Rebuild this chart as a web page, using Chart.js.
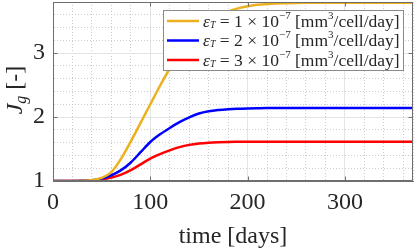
<!DOCTYPE html>
<html>
<head>
<meta charset="utf-8">
<script src="https://cdn.jsdelivr.net/npm/chart.js@4.4.1/dist/chart.umd.min.js"></script>
<style>
  html, body { margin: 0; padding: 0; background: #fff; }
  #wrap { width: 415px; height: 252px; }
</style>
</head>
<body>
<div id="wrap"><canvas id="chart" width="415" height="252"></canvas></div>
<script>
// time axis (days) and the three growth curves
const days = [0, 10, 20, 30, 40, 50, 60, 70, 80, 90, 100, 110, 120, 130, 140, 150, 160, 170, 180, 190,
              200, 210, 220, 230, 240, 250, 260, 270, 280, 290, 300, 310, 320, 330, 340, 350, 360, 370];
const jgEps1 = [1, 1, 1, 1.003, 1.015, 1.05, 1.14, 1.35, 1.62, 1.91, 2.2, 2.49, 2.76, 3.0, 3.2, 3.36, 3.49, 3.58, 3.65, 3.70,
                3.735, 3.757, 3.77, 3.778, 3.782, 3.785, 3.787, 3.788, 3.789, 3.789, 3.789, 3.789, 3.789, 3.789, 3.789, 3.789, 3.789, 3.789];
const jgEps2 = [1, 1, 1, 1.003, 1.012, 1.04, 1.09, 1.17, 1.29, 1.45, 1.61, 1.73, 1.83, 1.92, 1.995, 2.055, 2.09, 2.11, 2.123, 2.131,
                2.136, 2.139, 2.141, 2.141, 2.141, 2.141, 2.141, 2.141, 2.141, 2.141, 2.141, 2.141, 2.141, 2.141, 2.141, 2.141, 2.141, 2.141];
const jgEps3 = [1, 1, 1, 1.002, 1.008, 1.025, 1.055, 1.1, 1.17, 1.26, 1.35, 1.42, 1.48, 1.53, 1.565, 1.587, 1.6, 1.607, 1.611, 1.613,
                1.615, 1.615, 1.615, 1.615, 1.615, 1.615, 1.615, 1.615, 1.615, 1.615, 1.615, 1.615, 1.615, 1.615, 1.615, 1.615, 1.615, 1.615];
const epsValues = ['1', '2', '3'];
const xMajor = [0, 100, 200, 300];
const yMajor = [1, 2, 3];
const colors = ['#EDB120', '#0000FF', '#FF0000'];

const SERIF = '"Liberation Serif", "DejaVu Serif", serif';
const MAJOR_GRID = '#e4e4e4';
const MINOR_GRID = '#cdcdcd';
const AXIS = '#6e6e6e';

function isMajorX(v) { return v % 100 === 0; }
function isMajorY(v) { return Math.abs(v - Math.round(v)) < 1e-6; }

// draws a run of text pieces with their own font and vertical shift
function drawRich(ctx, x, y, parts) {
    parts.forEach(p => {
        ctx.font = p.font;
        ctx.fillText(p.t, x, y + (p.dy || 0));
        x += ctx.measureText(p.t).width;
    });
    return x;
}

const decorPlugin = {
    id: 'decor',
    afterDraw(chart) {
        const ctx = chart.ctx;
        const a = chart.chartArea;
        const sx = chart.scales.x, sy = chart.scales.y;
        ctx.save();
        // box around the axes
        ctx.strokeStyle = AXIS;
        ctx.lineWidth = 1;
        const L = Math.round(a.left) + 0.5, T = Math.round(a.top) + 0.5;
        const R = Math.round(a.right) - 0.5, B = Math.round(a.bottom) - 0.5;
        ctx.strokeRect(L, T, R - L, B - T);
        // small inward tick marks, MATLAB style
        ctx.beginPath();
        xMajor.forEach(v => {
            const px = Math.round(sx.getPixelForValue(v)) + 0.5;
            ctx.moveTo(px, B); ctx.lineTo(px, B - 4);
            ctx.moveTo(px, T); ctx.lineTo(px, T + 4);
        });
        yMajor.forEach(v => {
            const py = Math.round(sy.getPixelForValue(v)) + 0.5;
            ctx.moveTo(L, py); ctx.lineTo(L + 4, py);
            ctx.moveTo(R, py); ctx.lineTo(R - 4, py);
        });
        ctx.stroke();

        // legend
        const lx = 163.5, ly = 10.5, lw = 240, lh = 60;
        ctx.fillStyle = '#fff';
        ctx.fillRect(lx, ly, lw, lh);
        ctx.strokeStyle = '#8a8a8a';
        ctx.strokeRect(lx, ly, lw, lh);
        const rows = [21, 40.5, 60];
        epsValues.forEach((e, i) => {
            ctx.strokeStyle = colors[i];
            ctx.lineWidth = 2.5;
            ctx.beginPath();
            ctx.moveTo(167, rows[i]);
            ctx.lineTo(199, rows[i]);
            ctx.stroke();
            ctx.fillStyle = '#262626';
            ctx.textBaseline = 'middle';
            drawRich(ctx, 203, rows[i] + 1, [
                { t: 'ε', font: 'italic 17.5px ' + SERIF },
                { t: 'T', font: 'italic 10px ' + SERIF, dy: 3 },
                { t: ' = ' + e + ' × 10', font: '17.5px ' + SERIF },
                { t: '−7', font: '11px ' + SERIF, dy: -6 },
                { t: ' [mm', font: '17.5px ' + SERIF },
                { t: '3', font: '11px ' + SERIF, dy: -6 },
                { t: '/cell/day]', font: '17.5px ' + SERIF }
            ]);
        });

        // y-axis title J_g [-]
        ctx.translate(22, 90);
        ctx.rotate(-Math.PI / 2);
        ctx.fillStyle = '#262626';
        ctx.textBaseline = 'alphabetic';
        const parts = [
            { t: 'J', font: 'italic 24px ' + SERIF },
            { t: 'g', font: 'italic 16px ' + SERIF, dy: 4 },
            { t: ' [-]', font: '24px ' + SERIF }
        ];
        let w = 0;
        parts.forEach(p => { ctx.font = p.font; w += ctx.measureText(p.t).width; });
        drawRich(ctx, -w / 2, 0, parts);
        ctx.restore();
    }
};

const seriesData = [jgEps1, jgEps2, jgEps3];

new Chart(document.getElementById('chart'), {
    type: 'line',
    data: {
        labels: days,
        datasets: seriesData.map((vals, i) => ({
            label: 'eps_T = ' + epsValues[i] + 'e-7',
            data: days.map((d, k) => ({ x: d, y: vals[k] })),
            borderColor: colors[i],
            borderWidth: 2.5,
            pointRadius: 0,
            fill: false,
            cubicInterpolationMode: 'monotone'
        }))
    },
    options: {
        responsive: false,
        animation: false,
        layout: { autoPadding: false, padding: { left: 0, right: 2, top: 2, bottom: 0 } },
        plugins: { legend: { display: false }, tooltip: { enabled: false } },
        scales: {
            x: {
                type: 'linear',
                min: 0,
                max: 370,
                afterFit(s) { s.height = 71; },
                ticks: {
                    stepSize: 20,
                    autoSkip: false,
                    maxRotation: 0,
                    padding: 0,
                    color: '#262626',
                    font: c => ({ family: SERIF, size: (c.tick && isMajorX(c.tick.value)) ? 24 : 1 }),
                    callback: v => isMajorX(v) ? String(v) : ''
                },
                grid: {
                    drawTicks: true,
                    tickLength: 7,
                    tickColor: 'rgba(0,0,0,0)',
                    color: c => (c.tick && isMajorX(c.tick.value)) ? MAJOR_GRID : MINOR_GRID
                },
                border: {
                    color: AXIS,
                    dash: c => (c.tick && !isMajorX(c.tick.value)) ? [1, 2] : []
                },
                title: {
                    display: true,
                    text: 'time [days]',
                    color: '#262626',
                    font: { family: SERIF, size: 24 },
                    padding: { top: 0, bottom: 1 }
                }
            },
            y: {
                min: 1,
                max: 3.8,
                afterFit(s) { s.width = 53; },
                ticks: {
                    stepSize: 0.2,
                    autoSkip: false,
                    padding: 0,
                    color: '#262626',
                    font: c => ({ family: SERIF, size: (c.tick && isMajorY(c.tick.value)) ? 24 : 1 }),
                    callback: v => isMajorY(v) ? String(Math.round(v)) : ''
                },
                grid: {
                    drawTicks: true,
                    tickLength: 8,
                    tickColor: 'rgba(0,0,0,0)',
                    color: c => (c.tick && isMajorY(c.tick.value)) ? MAJOR_GRID : MINOR_GRID
                },
                border: {
                    color: AXIS,
                    dash: c => (c.tick && !isMajorY(c.tick.value)) ? [1, 2] : []
                }
            }
        }
    },
    plugins: [decorPlugin]
});
</script>
</body>
</html>
